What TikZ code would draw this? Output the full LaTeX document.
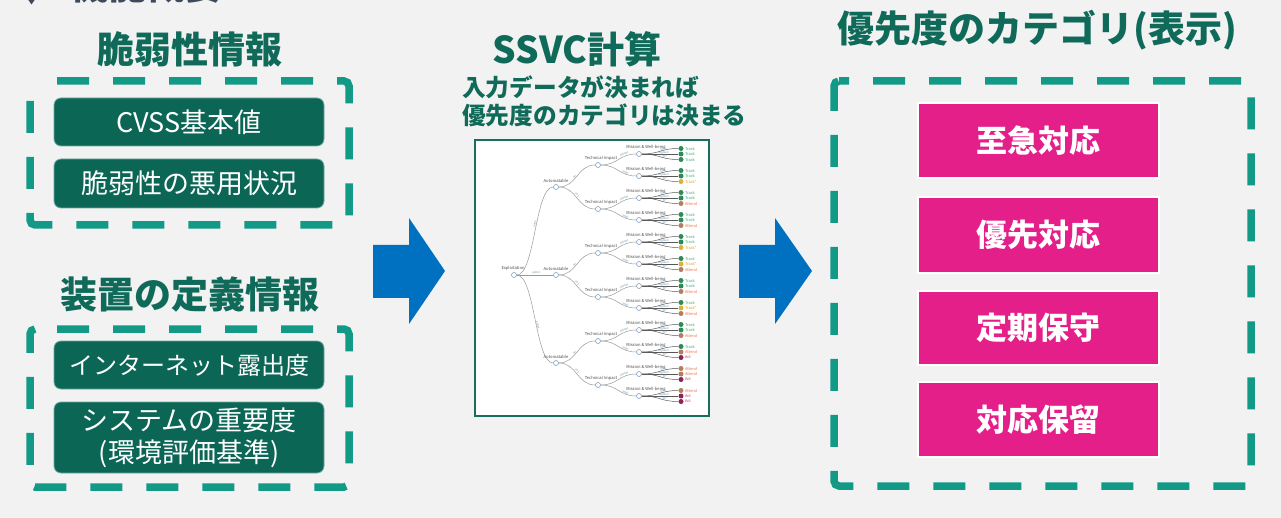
\documentclass[tikz,border=0pt]{standalone}
\usepackage{fontspec}
\setmainfont{Noto Sans CJK JP}
\definecolor{bg}{HTML}{F2F2F2}
\definecolor{titlegreen}{HTML}{0F6A59}
\definecolor{dashteal}{HTML}{129A87}
\definecolor{boxgreen}{HTML}{0B6656}
\definecolor{boxedge}{HTML}{6FA89C}
\definecolor{magenta0}{HTML}{E41F8A}
\definecolor{arrowblue}{HTML}{0070C0}
\definecolor{framegreen}{HTML}{17705F}
\definecolor{nodeblue}{HTML}{7F9FC0}
\definecolor{edgegray}{HTML}{9A9A9A}
\definecolor{labelgray}{HTML}{4A4A4A}
\definecolor{edgelbl}{HTML}{6F8FA8}
\definecolor{headgray}{HTML}{3D4A5C}
\definecolor{cT}{HTML}{2E8B57}
\definecolor{cS}{HTML}{D9B43C}
\definecolor{cA}{HTML}{B57C5E}
\definecolor{cX}{HTML}{8E2356}
\definecolor{tT}{HTML}{3CB371}
\definecolor{tS}{HTML}{E8A31A}
\definecolor{tA}{HTML}{E8744A}
\definecolor{tX}{HTML}{D6336C}
\newcommand\lblT{Track}
\newcommand\lblS{Track*}
\newcommand\lblA{Attend}
\newcommand\lblX{Act}
\tikzset{
  title/.style={text=titlegreen, font=\bfseries\fontsize{37}{42}\selectfont, inner sep=0pt},
  dashbox/.style={draw=dashteal, line width=7.5pt, dash pattern=on 32pt off 24pt, dash phase=34pt, rounded corners=5pt},
  ibox/.style={fill=boxgreen, draw=boxedge, line width=0.8pt, rounded corners=7pt, text=white,
    font=\fontsize{27}{32}\selectfont, minimum width=270pt, inner sep=0pt, align=center},
  pbox/.style={fill=magenta0, draw=white, line width=1.5pt, text=white,
    font=\bfseries\fontsize{31}{36}\selectfont, minimum width=241pt, inner sep=0pt},
  bluearrow/.style={fill=arrowblue},
  tn/.style={circle, draw=nodeblue, fill=white, line width=0.6pt, minimum size=5pt, inner sep=0pt},
  lf/.style={circle, minimum size=5pt, inner sep=0pt},
  te/.style={draw=edgegray, line width=0.5pt},
  tl/.style={font=\fontsize{4.1}{4.5}\selectfont, text=labelgray, inner sep=0.3pt},
  el/.style={font=\fontsize{2.8}{3}\selectfont, text=edgelbl, sloped, inner sep=0.4pt, above},
  lt/.style={font=\fontsize{3.9}{4.2}\selectfont, anchor=west, inner sep=0.3pt}
}
\begin{document}
\begin{tikzpicture}[x=1pt,y=-1pt]
\useasboundingbox (0,0) rectangle (1281,518);
\fill[bg] (0,0) rectangle (1281,518);

% cut-off heading
\fill[headgray] (27,-2) -- (36,-2) -- (31.5,4.5) -- cycle;
\node[anchor=base west, text=headgray, font=\bfseries\fontsize{38}{40}\selectfont, inner sep=0pt] (hd) at (70,0) {機能概要};

% left column
\node[title] (t1) at (190,49) {脆弱性情報};
\draw[dashbox] (30,81) -- (349,81) -- (349,225) -- (30,225) -- cycle;
\node[ibox, minimum height=48pt] (cvss) at (189,122) {CVSS基本値};
\node[ibox, minimum height=49pt] (expl) at (189,183.5) {脆弱性の悪用状況};

\node[title] (t2) at (190,295) {装置の定義情報};
\draw[dashbox] (30,329) -- (349,329) -- (349,487) -- (30,487) -- cycle;
\node[ibox, minimum height=48pt, font=\fontsize{24}{30}\selectfont] (inet) at (189,365) {インターネット露出度};
\node[ibox, minimum height=71pt] (sys) at (189,437.5) {システムの重要度\\(環境評価基準)};

% arrows
\fill[bluearrow] (373,245) -- (409,245) -- (409,218) -- (445,271) -- (409,324) -- (409,298) -- (373,298) -- cycle;
\fill[bluearrow] (739,245) -- (775,245) -- (775,218) -- (812,271) -- (775,324) -- (775,298) -- (739,298) -- cycle;

% middle column
\node[title] (t3) at (577,49) {SSVC計算};
\node[anchor=base west, text=titlegreen, font=\bfseries\fontsize{23.7}{28}\selectfont, inner sep=0pt] (s1) at (462,97) {入力データが決まれば};
\node[anchor=base west, text=titlegreen, font=\bfseries\fontsize{23.7}{28}\selectfont, inner sep=0pt] (s2) at (462,125) {優先度のカテゴリは決まる};
\draw[framegreen, fill=white, line width=2pt] (475,140) rectangle (709,416);

% decision tree
\node[tn] (R) at (514,275) {};
\node[tl, anchor=south, yshift=1.5pt, xshift=-1pt] at (R.north) {Exploitation};
\foreach \i/\y in {1/187,2/275,3/363}{
  \node[tn] (A\i) at (556,\y) {};
  \node[tl, anchor=south, yshift=1.5pt] at (A\i.north) {Automatable};
}
\foreach \i/\lab in {1/none,2/public,3/active}
  \draw[te] (R) .. controls +(21,0) and +(-21,0) .. (A\i) node[el, pos=0.55]{\lab};
\foreach \i in {1,...,6}{
  \pgfmathsetmacro\ty{165+44*(\i-1)}
  \pgfmathtruncatemacro\pa{(\i+1)/2}
  \pgfmathtruncatemacro\odd{mod(\i,2)}
  \ifnum\odd=1 \def\lab{no}\else\def\lab{yes}\fi
  \node[tn] (T\i) at (598,\ty) {};
  \node[tl, anchor=south, yshift=1.5pt, xshift=3pt] at (T\i.north) {Technical Impact};
  \draw[te] (A\pa) .. controls +(21,0) and +(-21,0) .. (T\i) node[el, pos=0.45]{\lab};
}
\foreach \j/\p/\q/\r in {1/T/T/T,2/T/T/S,3/T/T/A,4/T/T/A,5/T/T/S,6/T/S/A,7/T/T/A,8/T/S/A,9/T/T/A,10/T/A/X,11/A/A/X,12/A/X/X}{
  \pgfmathsetmacro\my{154+22*(\j-1)}
  \pgfmathtruncatemacro\pa{(\j+1)/2}
  \pgfmathtruncatemacro\odd{mod(\j,2)}
  \ifnum\odd=1 \def\lab{partial}\else\def\lab{total}\fi
  \node[tn] (M\j) at (639,\my) {};
  \node[tl, anchor=south, yshift=1.5pt, xshift=7pt] at (M\j.north) {Mission \& Well-being};
  \draw[te] (T\pa) .. controls +(20,0) and +(-20,0) .. (M\j) node[el, pos=0.72]{\lab};
  \foreach \k/\lc/\w in {1/\p/low,2/\q/medium,3/\r/high}{
    \pgfmathsetmacro\ly{\my+(\k-2)*5.5}
    \node[lf, fill=c\lc] (L\j-\k) at (681,\ly) {};
    \draw[te, draw=gray!70!black] (M\j) .. controls +(21,0) and +(-21,0) .. (L\j-\k) node[el, pos=0.62]{\w};
    \node[lt, text=t\lc] at (684.5,\ly) {\csname lbl\lc\endcsname};
  }
}

% right column
\node[title] (t4) at (1037,30) {優先度のカテゴリ(表示)};
\draw[dashbox, dash phase=22pt] (834,81) -- (1251,81) -- (1251,486) -- (834,486) -- cycle;
\node[pbox, minimum height=75pt] (p1) at (1038.5,140.5) {至急対応};
\node[pbox, minimum height=76pt] (p2) at (1038.5,235) {優先対応};
\node[pbox, minimum height=74pt] (p3) at (1038.5,328) {定期保守};
\node[pbox, minimum height=75pt] (p4) at (1038.5,419.5) {対応保留};
\end{tikzpicture}
\end{document}
